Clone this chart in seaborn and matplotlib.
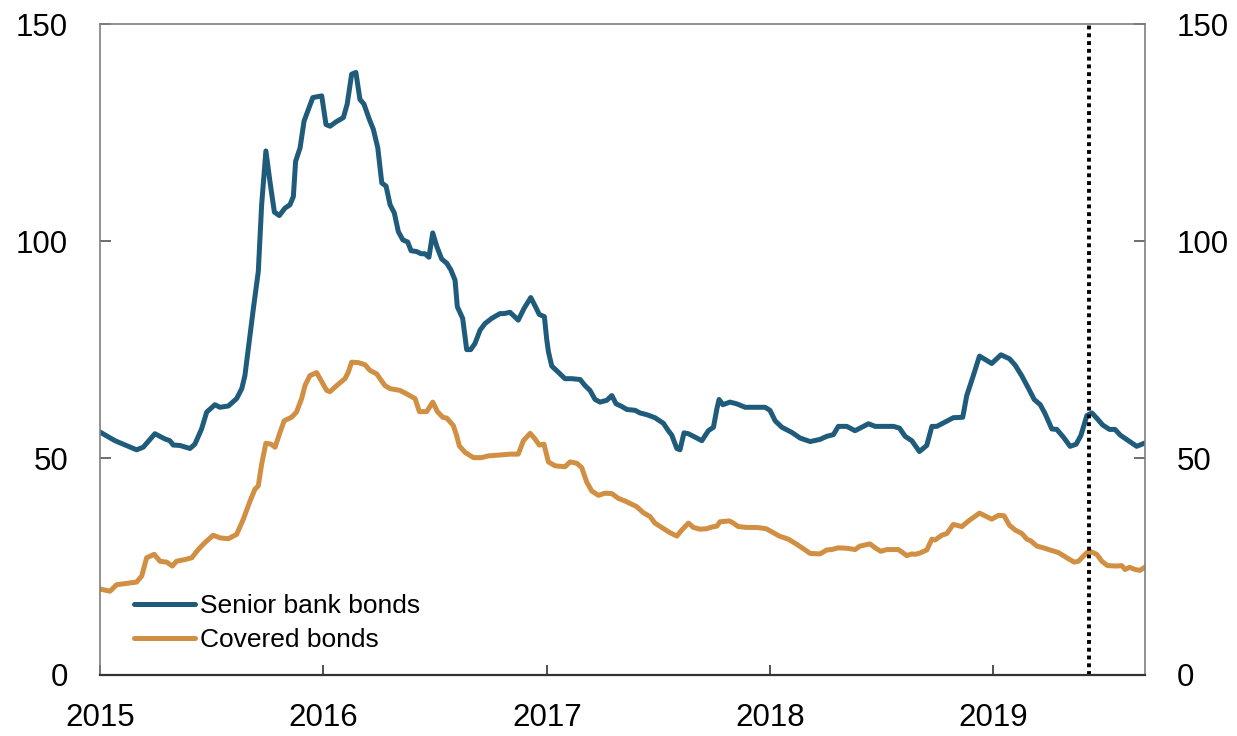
import pandas as pd
import matplotlib
matplotlib.use('Agg')
import matplotlib.pyplot as plt
import matplotlib.dates as mdates
import seaborn as sns

# --- Data (time in fractional years) ---

SENIOR_T = [
    2015.000, 2015.067, 2015.164, 2015.194, 2015.246, 2015.291, 2015.313, 2015.328,
    2015.358, 2015.403, 2015.425, 2015.455, 2015.478, 2015.515, 2015.537, 2015.575,
    2015.612, 2015.635, 2015.649, 2015.664, 2015.687, 2015.709, 2015.724, 2015.743,
    2015.761, 2015.781, 2015.803, 2015.828, 2015.851, 2015.866, 2015.876, 2015.896,
    2015.914, 2015.953, 2015.993, 2016.012, 2016.030, 2016.057, 2016.090, 2016.107,
    2016.127, 2016.146, 2016.164, 2016.182, 2016.206, 2016.224, 2016.244, 2016.262,
    2016.281, 2016.299, 2016.318, 2016.336, 2016.356, 2016.378, 2016.393, 2016.418,
    2016.438, 2016.455, 2016.473, 2016.490, 2016.508, 2016.530, 2016.553, 2016.571,
    2016.590, 2016.600, 2016.624, 2016.642, 2016.660, 2016.679, 2016.702, 2016.724,
    2016.754, 2016.791, 2016.809, 2016.836, 2016.873, 2016.899, 2016.929, 2016.948,
    2016.967, 2016.990, 2017.000, 2017.008, 2017.023, 2017.052, 2017.082, 2017.112,
    2017.150, 2017.172, 2017.194, 2017.217, 2017.239, 2017.269, 2017.292, 2017.311,
    2017.336, 2017.359, 2017.396, 2017.418, 2017.448, 2017.485, 2017.523, 2017.545,
    2017.560, 2017.583, 2017.597, 2017.615, 2017.635, 2017.665, 2017.695, 2017.724,
    2017.747, 2017.762, 2017.772, 2017.789, 2017.821, 2017.851, 2017.889, 2017.933,
    2017.978, 2018.000, 2018.023, 2018.053, 2018.098, 2018.135, 2018.180, 2018.224,
    2018.254, 2018.284, 2018.306, 2018.344, 2018.381, 2018.411, 2018.441, 2018.471,
    2018.508, 2018.553, 2018.580, 2018.605, 2018.635, 2018.669, 2018.702, 2018.725,
    2018.747, 2018.784, 2018.821, 2018.863, 2018.881, 2018.911, 2018.938, 2018.993,
    2019.034, 2019.072, 2019.098, 2019.128, 2019.157, 2019.183, 2019.210, 2019.232,
    2019.262, 2019.284, 2019.314, 2019.344, 2019.371, 2019.392, 2019.419, 2019.441,
    2019.463, 2019.490, 2019.520, 2019.545, 2019.568, 2019.605, 2019.642, 2019.680,
]
SENIOR_VALUES = [
    56.0, 54.0, 51.9, 52.5, 55.6, 54.4, 54.0, 53.0,
    52.9, 52.2, 53.2, 56.7, 60.6, 62.3, 61.7, 62.0,
    63.7, 66.0, 69.0, 75.2, 84.5, 93.0, 108.4, 120.8,
    113.8, 106.7, 105.9, 107.6, 108.4, 110.3, 118.4, 121.5,
    127.7, 133.1, 133.5, 126.9, 126.5, 127.5, 128.5, 131.6,
    138.5, 138.9, 132.7, 131.6, 128.1, 125.8, 121.5, 113.4,
    112.7, 108.4, 106.5, 102.2, 100.3, 99.8, 97.8, 97.6,
    97.1, 97.1, 96.3, 101.9, 98.8, 95.9, 94.9, 93.4,
    91.0, 84.9, 82.2, 75.0, 75.0, 76.4, 79.5, 81.0,
    82.2, 83.3, 83.3, 83.6, 81.8, 84.5, 87.0, 85.1,
    83.1, 82.6, 77.5, 74.5, 71.2, 69.8, 68.3, 68.3,
    68.1, 66.7, 65.6, 63.5, 62.9, 63.3, 64.4, 62.5,
    61.9, 61.2, 61.0, 60.4, 60.0, 59.3, 58.0, 56.3,
    55.3, 52.2, 51.9, 55.8, 55.6, 54.8, 54.0, 56.3,
    57.1, 61.3, 63.5, 62.3, 62.9, 62.5, 61.7, 61.7,
    61.7, 61.0, 58.6, 57.1, 55.9, 54.6, 53.8, 54.3,
    55.0, 55.4, 57.3, 57.3, 56.3, 57.1, 57.9, 57.3,
    57.3, 57.3, 56.9, 55.0, 54.0, 51.5, 52.9, 57.3,
    57.3, 58.3, 59.3, 59.4, 64.4, 69.1, 73.5, 71.8,
    73.8, 72.9, 71.4, 68.9, 66.1, 63.5, 62.3, 60.2,
    56.7, 56.6, 54.8, 52.7, 53.2, 55.2, 59.8, 60.4,
    59.2, 57.6, 56.6, 56.6, 55.3, 54.0, 52.7, 53.5,
]

COVERED_T = [
    2015.000, 2015.045, 2015.075, 2015.120, 2015.164, 2015.187, 2015.209, 2015.243,
    2015.269, 2015.299, 2015.324, 2015.343, 2015.381, 2015.411, 2015.440, 2015.470,
    2015.507, 2015.537, 2015.575, 2015.612, 2015.642, 2015.672, 2015.694, 2015.709,
    2015.724, 2015.743, 2015.766, 2015.784, 2015.806, 2015.825, 2015.858, 2015.880,
    2015.903, 2015.918, 2015.940, 2015.970, 2016.015, 2016.030, 2016.060, 2016.097,
    2016.112, 2016.127, 2016.157, 2016.187, 2016.209, 2016.239, 2016.276, 2016.299,
    2016.343, 2016.373, 2016.411, 2016.430, 2016.463, 2016.490, 2016.511, 2016.535,
    2016.553, 2016.582, 2016.597, 2016.609, 2016.635, 2016.672, 2016.709, 2016.739,
    2016.791, 2016.836, 2016.873, 2016.896, 2016.926, 2016.948, 2016.967, 2016.988,
    2017.008, 2017.038, 2017.082, 2017.105, 2017.135, 2017.157, 2017.180, 2017.202,
    2017.232, 2017.262, 2017.292, 2017.321, 2017.351, 2017.403, 2017.433, 2017.463,
    2017.485, 2017.515, 2017.552, 2017.583, 2017.605, 2017.635, 2017.657, 2017.687,
    2017.717, 2017.739, 2017.762, 2017.776, 2017.818, 2017.836, 2017.858, 2017.896,
    2017.941, 2017.983, 2018.015, 2018.042, 2018.082, 2018.120, 2018.149, 2018.180,
    2018.224, 2018.254, 2018.276, 2018.306, 2018.344, 2018.381, 2018.403, 2018.448,
    2018.471, 2018.496, 2018.523, 2018.575, 2018.597, 2018.612, 2018.635, 2018.650,
    2018.672, 2018.702, 2018.725, 2018.739, 2018.769, 2018.792, 2018.821, 2018.859,
    2018.889, 2018.938, 2018.993, 2019.023, 2019.048, 2019.072, 2019.098, 2019.128,
    2019.150, 2019.168, 2019.195, 2019.224, 2019.254, 2019.292, 2019.329, 2019.362,
    2019.381, 2019.419, 2019.433, 2019.463, 2019.486, 2019.511, 2019.553, 2019.575,
    2019.590, 2019.610, 2019.635, 2019.657, 2019.680,
]
COVERED_VALUES = [
    19.8, 19.3, 20.8, 21.1, 21.4, 22.8, 27.0, 27.8,
    26.2, 26.0, 25.1, 26.2, 26.6, 27.0, 28.9, 30.5,
    32.2, 31.6, 31.4, 32.4, 35.9, 40.1, 42.8, 43.6,
    48.6, 53.4, 53.2, 52.5, 55.9, 58.6, 59.4, 60.6,
    63.7, 66.7, 69.0, 69.7, 65.6, 65.3, 66.7, 68.3,
    69.8, 72.1, 72.0, 71.5, 70.2, 69.4, 66.7, 66.0,
    65.6, 64.8, 63.7, 60.7, 60.7, 62.9, 60.7, 59.4,
    59.2, 57.5, 55.2, 52.8, 51.3, 50.1, 50.1, 50.5,
    50.7, 50.9, 50.9, 54.0, 55.7, 54.4, 53.0, 53.2,
    49.1, 48.2, 48.0, 49.1, 48.8, 47.8, 44.4, 42.4,
    41.4, 41.9, 41.8, 40.7, 40.1, 38.8, 37.4, 36.5,
    35.0, 34.0, 32.8, 32.0, 33.4, 35.0, 34.0, 33.6,
    33.7, 34.1, 34.3, 35.3, 35.5, 35.0, 34.2, 34.0,
    34.0, 33.7, 32.8, 32.0, 31.3, 30.1, 29.1, 28.0,
    27.9, 28.8, 28.9, 29.3, 29.2, 28.9, 29.7, 30.2,
    29.3, 28.5, 28.9, 28.9, 28.1, 27.5, 27.9, 27.8,
    28.1, 28.8, 31.3, 31.1, 32.2, 32.6, 34.7, 34.2,
    35.5, 37.3, 35.9, 36.8, 36.7, 34.5, 33.4, 32.6,
    31.3, 30.9, 29.7, 29.3, 28.8, 28.2, 27.0, 26.0,
    26.2, 28.2, 28.5, 27.8, 26.2, 25.2, 25.1, 25.2,
    24.3, 24.8, 24.3, 24.1, 24.9,
]

SERIES_NAMES = ['Senior bank bonds', 'Covered bonds']
SERIES_COLORS = ['#1F5B7B', '#D18F43']
MARKER_DATE = '2019-06-07'
X_START, X_END = '2015-01-01', '2019-09-06'
Y_TICKS = [0, 50, 100, 150]

BASE = pd.Timestamp('2015-01-01')


def to_dates(years):
    """Converts fractional years to timestamps."""
    return [BASE + pd.to_timedelta((y - 2015.0) * 365.25, unit='D') for y in years]


# --- Build long-format frame ---
frames = []
for name, t, v in [(SERIES_NAMES[0], SENIOR_T, SENIOR_VALUES),
                   (SERIES_NAMES[1], COVERED_T, COVERED_VALUES)]:
    frames.append(pd.DataFrame({'date': to_dates(t), 'value': v, 'series': name}))
df = pd.concat(frames, ignore_index=True)

# --- Plot ---
sns.set_style('ticks')
plt.rcParams['font.family'] = ['Liberation Sans', 'DejaVu Sans']
plt.rcParams['text.color'] = 'black'

fig = plt.figure(figsize=(12.37, 7.36), dpi=100)
ax = fig.add_axes([0.0808, 0.083, 0.8448, 0.884])

sns.lineplot(data=df, x='date', y='value', hue='series', hue_order=SERIES_NAMES,
             palette=SERIES_COLORS, linewidth=3.6, ax=ax, sort=False)

ax.axvline(pd.Timestamp(MARKER_DATE), color='black', linestyle=(0, (1, 1)), linewidth=2.8)

ax.set_xlim(pd.Timestamp(X_START), pd.Timestamp(X_END))
ax.set_ylim(0, 150)
ax.set_yticks(Y_TICKS)
ax.xaxis.set_major_locator(mdates.YearLocator())
ax.xaxis.set_major_formatter(mdates.DateFormatter('%Y'))
ax.set_xlabel('')
ax.set_ylabel('')

for side in ['left', 'right', 'top']:
    ax.spines[side].set_visible(True)
    ax.spines[side].set_color('#7f7f7f')
    ax.spines[side].set_linewidth(1.2)
ax.spines['bottom'].set_color('#333333')
ax.spines['bottom'].set_linewidth(1.6)

ax.tick_params(axis='y', direction='in', length=8, width=1.2, colors='#555555',
               labelcolor='black', labelsize=22.5, pad=23, left=True, right=True,
               labelleft=True, labelright=True)
ax.tick_params(axis='x', direction='in', length=7, width=1.2, colors='#333333',
               labelcolor='black', labelsize=22.5, pad=20)

leg = ax.legend(loc='lower left', bbox_to_anchor=(0.0115, 0.0), frameon=False,
                fontsize=19, handlelength=2.3, handletextpad=0.2,
                labelspacing=0.4, borderaxespad=0.45, labelcolor='black')
for line in leg.get_lines():
    line.set_linewidth(3.6)

fig.savefig('out.png', dpi=100)
